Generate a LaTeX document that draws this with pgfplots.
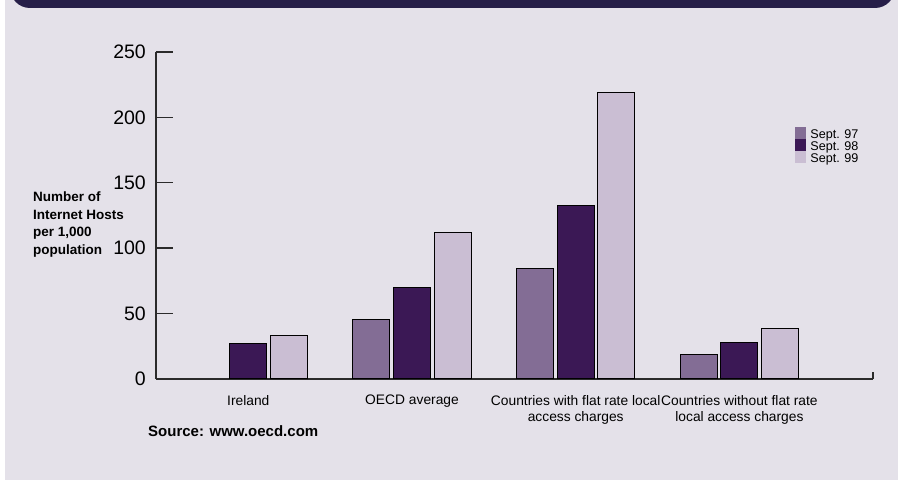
\documentclass[border=0pt]{standalone}
\usepackage{pgfplots}
\pgfplotsset{compat=1.18}
\usepackage{fontspec}
\setmainfont{Liberation Sans}
\definecolor{bg}{HTML}{E4E1E9}
\definecolor{hdr}{HTML}{261E48}
\definecolor{cA}{HTML}{836D95}
\definecolor{cB}{HTML}{3B1855}
\definecolor{cC}{HTML}{CABED3}
\definecolor{axc}{HTML}{2B2B2B}
\begin{document}
\begin{tikzpicture}
\useasboundingbox (0pt,0pt) rectangle (898pt,482pt);
\fill[white] (0pt,0pt) rectangle (898pt,482pt);
\fill[bg] (5pt,2pt) rectangle (898pt,482pt);
\begin{scope}
\clip (0pt,0pt) rectangle (898pt,482pt);
\fill[hdr, rounded corners=20pt] (10pt,474pt) rectangle (895pt,540pt);
\end{scope}
\begin{axis}[
  at={(156pt,103pt)}, anchor=south west,
  scale only axis, width=717pt, height=327pt,
  xmin=-0.564, xmax=3.816, ymin=0, ymax=250,
  axis x line=bottom, axis y line=left,
  axis line style={-, line width=1.4pt, color=axc},
  ytick={0,50,100,150,200,250},
  ytick style={line width=1.4pt, color=axc},
  major tick length=17pt, tick align=inside,
  xtick={0,1,2,3},
  xtick style={draw=none},
  xticklabels={Ireland, OECD average, {Countries with flat rate local\\access charges}, {Countries without flat rate\\local access charges}},
  xticklabel style={font=\fontsize{13.8}{16.5}\selectfont, align=center, inner sep=0pt, yshift=1pt},
  yticklabel style={font=\fontsize{19.5}{21}\selectfont, inner sep=0pt, xshift=-10pt},
  /pgf/number format/assume math mode=true,
  ybar=3.7pt, bar width=37pt,
  clip=false,
  legend cell align=left,
  legend style={at={(0.891,0.7697)}, anchor=north west, draw=none, fill=none,
    inner sep=0pt, outer sep=0pt, row sep=-2.5pt, column sep=4pt,
    font=\fontsize{12.6}{14}\selectfont,
    nodes={inner sep=0pt, text height=8.5pt, text depth=3pt}},
  legend image code/.code={\fill[#1,draw=none] (0pt,-3.25pt) rectangle (11.5pt,8.75pt);},
]
\addplot[fill=cA, draw=black, line width=1pt] coordinates {(1,45.6) (2,84.6) (3,18.6)};
\addplot[fill=cB, draw=black, line width=1pt] coordinates {(0,27.5) (1,70.1) (2,132.3) (3,27.8)};
\addplot[fill=cC, draw=black, line width=1pt] coordinates {(0,32.9) (1,111.9) (2,219.2) (3,38.8)};
\legend{Sept. 97, Sept. 98, Sept. 99}
\draw[line width=1.4pt, axc] (rel axis cs:1,0) -- ++(0pt,7pt);
\end{axis}
\node[anchor=north west, align=left, font=\bfseries\fontsize{13.5}{17.4}\selectfont, inner sep=0pt] at (33pt,290pt) {Number of\\Internet Hosts\\per 1,000\\population};
\node[anchor=base west, font=\bfseries\fontsize{15}{18}\selectfont, inner sep=0pt] at (148pt,45pt) {Source: www.oecd.com};
\end{tikzpicture}
\end{document}
